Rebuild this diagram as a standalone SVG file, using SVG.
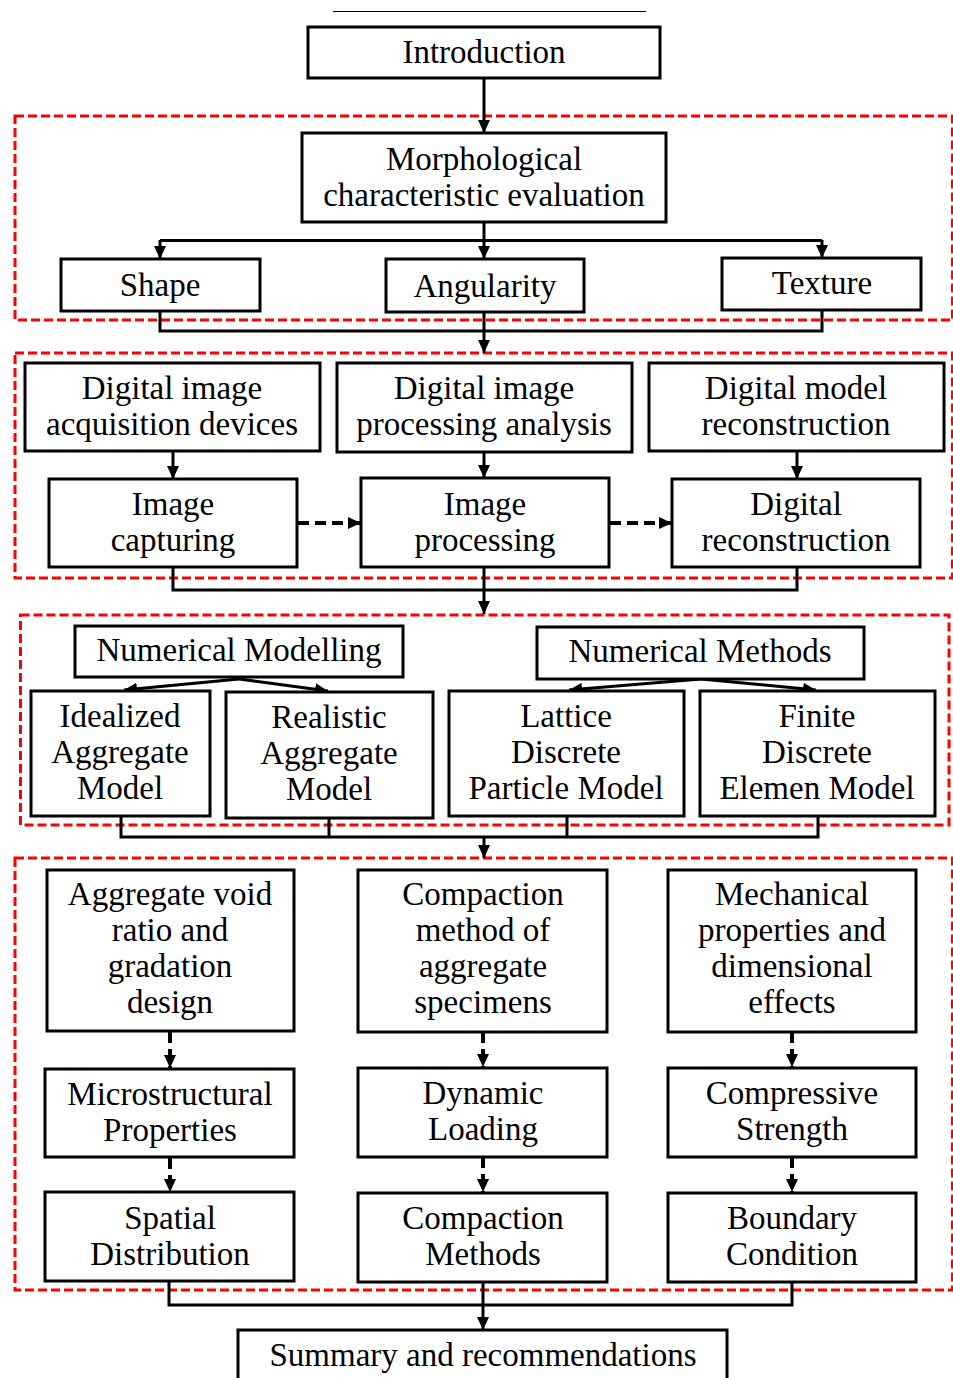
<svg xmlns="http://www.w3.org/2000/svg" width="953" height="1378" viewBox="0 0 953 1378">
  <style>
    .box { fill: #ffffff; stroke: #000000; stroke-width: 3; }
    .zone { fill: none; stroke: #ff0000; stroke-width: 3; stroke-dasharray: 9 4; }
    .lbl { font-family: "Liberation Serif", "Times New Roman", serif; font-size: 33px; fill: #000000; text-anchor: middle; }
    .wire { fill: none; stroke: #000000; stroke-width: 3; }
    .arr { fill: none; stroke: #000000; stroke-width: 3; marker-end: url(#head); }
    .darr { fill: none; stroke: #000000; stroke-width: 4; stroke-dasharray: 11 6; marker-end: url(#head); }
  </style>
  <defs>
    <marker id="head" markerUnits="userSpaceOnUse" markerWidth="13" markerHeight="12" refX="13" refY="6" orient="auto">
      <path d="M0,0 L13,6 L0,12 z" fill="#000000"/>
    </marker>
  </defs>

  <rect width="953" height="1378" fill="#ffffff"/>
  <line x1="333" y1="11.5" x2="646" y2="11.5" stroke="#000000" stroke-width="1.2"/>

  <!-- grouping frames -->
  <g id="zones">
    <rect class="zone" x="15" y="116" width="937.5" height="204"/>
    <rect class="zone" x="15" y="353" width="937.5" height="225"/>
    <rect class="zone" x="20.5" y="615" width="928.5" height="210"/>
    <rect class="zone" x="15" y="858" width="937.5" height="432"/>
  </g>

  <!-- connectors -->
  <g id="connectors">
    <path class="arr" d="M484,78 V133"/>
    <path class="wire" d="M160,240.5 H822"/>
    <path class="arr" d="M484,222 V259"/>
    <path class="arr" d="M160,240 V259"/>
    <path class="arr" d="M822,240 V258"/>
    <path class="wire" d="M160,311 V331 H822 V310"/>
    <path class="arr" d="M484,312 V353"/>

    <path class="arr" d="M173,451 V479"/>
    <path class="arr" d="M484,452 V478"/>
    <path class="arr" d="M797,451 V479"/>
    <path class="darr" d="M298,523 H361"/>
    <path class="darr" d="M610,523 H672"/>
    <path class="wire" d="M173,567 V590 H797 V567"/>
    <path class="arr" d="M484,567 V614"/>

    <path class="arr" d="M239,679 L124,690"/>
    <path class="arr" d="M239,679 L328,691"/>
    <path class="arr" d="M701,679 L569,690"/>
    <path class="arr" d="M701,679 L816,690"/>
    <path class="wire" d="M121,816 V837 H818 V816"/>
    <path class="wire" d="M329,818 V837"/>
    <path class="wire" d="M567,816 V837"/>
    <path class="arr" d="M484,837 V858"/>

    <path class="darr" d="M170,1032 V1068"/>
    <path class="darr" d="M170,1158 V1192"/>
    <path class="darr" d="M483,1032 V1067"/>
    <path class="darr" d="M483,1157 V1192"/>
    <path class="darr" d="M792,1032 V1067"/>
    <path class="darr" d="M792,1157 V1192"/>
    <path class="wire" d="M169,1282 V1305 H792 V1282"/>
    <path class="arr" d="M483,1283 V1330"/>
  </g>

  <!-- top -->
  <g id="introduction">
    <rect class="box" x="308" y="27" width="352" height="51"/>
    <text class="lbl" x="484" y="63">Introduction</text>
  </g>

  <!-- morphology -->
  <g id="morphological">
    <rect class="box" x="302" y="133" width="364" height="89"/>
    <text class="lbl" x="484" y="170">Morphological</text>
    <text class="lbl" x="484" y="206">characteristic evaluation</text>
  </g>
  <g id="shape">
    <rect class="box" x="61" y="259" width="199" height="52"/>
    <text class="lbl" x="160" y="296">Shape</text>
  </g>
  <g id="angularity">
    <rect class="box" x="386" y="259" width="198" height="53"/>
    <text class="lbl" x="485" y="297">Angularity</text>
  </g>
  <g id="texture">
    <rect class="box" x="722" y="258" width="199" height="52"/>
    <text class="lbl" x="822" y="294">Texture</text>
  </g>

  <!-- digital imaging -->
  <g id="acquisition">
    <rect class="box" x="25" y="363" width="295" height="88"/>
    <text class="lbl" x="172" y="399">Digital image</text>
    <text class="lbl" x="172" y="435">acquisition devices</text>
  </g>
  <g id="processing-analysis">
    <rect class="box" x="337" y="363" width="295" height="89"/>
    <text class="lbl" x="484" y="399">Digital image</text>
    <text class="lbl" x="484" y="435">processing analysis</text>
  </g>
  <g id="model-reconstruction">
    <rect class="box" x="649" y="363" width="295" height="88"/>
    <text class="lbl" x="796" y="399">Digital model</text>
    <text class="lbl" x="796" y="435">reconstruction</text>
  </g>
  <g id="image-capturing">
    <rect class="box" x="49" y="479" width="248" height="88"/>
    <text class="lbl" x="173" y="515">Image</text>
    <text class="lbl" x="173" y="551">capturing</text>
  </g>
  <g id="image-processing">
    <rect class="box" x="361" y="478" width="248" height="89"/>
    <text class="lbl" x="485" y="515">Image</text>
    <text class="lbl" x="485" y="551">processing</text>
  </g>
  <g id="digital-reconstruction">
    <rect class="box" x="672" y="479" width="248" height="88"/>
    <text class="lbl" x="796" y="515">Digital</text>
    <text class="lbl" x="796" y="551">reconstruction</text>
  </g>

  <!-- numerical -->
  <g id="numerical-modelling">
    <rect class="box" x="75" y="626" width="328" height="51"/>
    <text class="lbl" x="239" y="661">Numerical Modelling</text>
  </g>
  <g id="numerical-methods">
    <rect class="box" x="537" y="627" width="327" height="52"/>
    <text class="lbl" x="700" y="662">Numerical Methods</text>
  </g>
  <g id="idealized">
    <rect class="box" x="31" y="691" width="179" height="125"/>
    <text class="lbl" x="120" y="727">Idealized</text>
    <text class="lbl" x="120" y="763">Aggregate</text>
    <text class="lbl" x="120" y="799">Model</text>
  </g>
  <g id="realistic">
    <rect class="box" x="226" y="692" width="207" height="126"/>
    <text class="lbl" x="329" y="728">Realistic</text>
    <text class="lbl" x="329" y="764">Aggregate</text>
    <text class="lbl" x="329" y="800">Model</text>
  </g>
  <g id="lattice">
    <rect class="box" x="449" y="691" width="235" height="125"/>
    <text class="lbl" x="566" y="727">Lattice</text>
    <text class="lbl" x="566" y="763">Discrete</text>
    <text class="lbl" x="566" y="799">Particle Model</text>
  </g>
  <g id="finite">
    <rect class="box" x="700" y="691" width="235" height="125"/>
    <text class="lbl" x="817" y="727">Finite</text>
    <text class="lbl" x="817" y="763">Discrete</text>
    <text class="lbl" x="817" y="799">Elemen Model</text>
  </g>

  <!-- properties -->
  <g id="void-ratio">
    <rect class="box" x="47" y="870" width="247" height="161"/>
    <text class="lbl" x="170" y="905">Aggregate void</text>
    <text class="lbl" x="170" y="941">ratio and</text>
    <text class="lbl" x="170" y="977">gradation</text>
    <text class="lbl" x="170" y="1013">design</text>
  </g>
  <g id="compaction-method">
    <rect class="box" x="358" y="870" width="249" height="162"/>
    <text class="lbl" x="483" y="905">Compaction</text>
    <text class="lbl" x="483" y="941">method of</text>
    <text class="lbl" x="483" y="977">aggregate</text>
    <text class="lbl" x="483" y="1013">specimens</text>
  </g>
  <g id="mechanical">
    <rect class="box" x="668" y="870" width="248" height="162"/>
    <text class="lbl" x="792" y="905">Mechanical</text>
    <text class="lbl" x="792" y="941">properties and</text>
    <text class="lbl" x="792" y="977">dimensional</text>
    <text class="lbl" x="792" y="1013">effects</text>
  </g>
  <g id="microstructural">
    <rect class="box" x="45" y="1069" width="249" height="88"/>
    <text class="lbl" x="170" y="1105">Microstructural</text>
    <text class="lbl" x="170" y="1141">Properties</text>
  </g>
  <g id="dynamic-loading">
    <rect class="box" x="358" y="1068" width="249" height="89"/>
    <text class="lbl" x="483" y="1104">Dynamic</text>
    <text class="lbl" x="483" y="1140">Loading</text>
  </g>
  <g id="compressive-strength">
    <rect class="box" x="668" y="1068" width="248" height="89"/>
    <text class="lbl" x="792" y="1104">Compressive</text>
    <text class="lbl" x="792" y="1140">Strength</text>
  </g>
  <g id="spatial-distribution">
    <rect class="box" x="45" y="1192" width="249" height="89"/>
    <text class="lbl" x="170" y="1229">Spatial</text>
    <text class="lbl" x="170" y="1265">Distribution</text>
  </g>
  <g id="compaction-methods">
    <rect class="box" x="358" y="1193" width="249" height="89"/>
    <text class="lbl" x="483" y="1229">Compaction</text>
    <text class="lbl" x="483" y="1265">Methods</text>
  </g>
  <g id="boundary-condition">
    <rect class="box" x="668" y="1193" width="248" height="89"/>
    <text class="lbl" x="792" y="1229">Boundary</text>
    <text class="lbl" x="792" y="1265">Condition</text>
  </g>

  <!-- bottom -->
  <g id="summary">
    <rect class="box" x="238" y="1330" width="489" height="60"/>
    <text class="lbl" x="483" y="1366">Summary and recommendations</text>
  </g>
</svg>
